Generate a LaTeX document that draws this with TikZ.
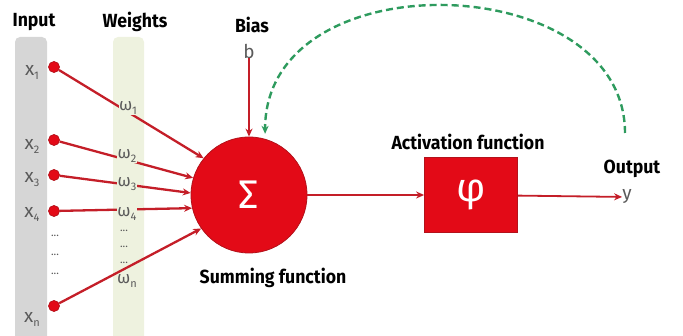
\documentclass[tikz,border=0pt]{standalone}
\usepackage{fontspec}
\setmainfont{Fira Sans}
\newfontfamily\headfont[FakeStretch=0.93]{Fira Sans}
\usetikzlibrary{arrows.meta}
\definecolor{nred}{HTML}{E30A17}
\definecolor{dred}{HTML}{B3121B}
\definecolor{lred}{HTML}{C41E28}
\definecolor{greybar}{HTML}{D6D6D6}
\definecolor{greenbar}{HTML}{EEF2DF}
\definecolor{fbgreen}{HTML}{2E9B5E}
\definecolor{txtgrey}{HTML}{5A5A5A}
\newcommand{\sbs}[1]{\raisebox{-0.4ex}{\fontsize{11}{11}\selectfont #1}}
\tikzset{
  head/.style={font=\headfont\bfseries\fontsize{19}{19}\selectfont, text=black, inner sep=0pt},
  xlab/.style={font=\fontsize{19}{19}\selectfont, text=txtgrey, inner sep=0pt},
  wlab/.style={font=\fontsize{17}{17}\selectfont, text=txtgrey, fill=greenbar, inner sep=0.5pt},
  dotsA/.style={font=\fontsize{11}{11}\selectfont, text=txtgrey, inner sep=0pt},
  indot/.style={circle, fill=nred, draw=dred, line width=0.7pt, minimum size=11pt, inner sep=0pt},
  wline/.style={draw=lred, line width=2.3pt, -{Stealth[length=8pt,width=7pt]}},
  rline/.style={draw=lred, line width=1.8pt, -{Stealth[length=8pt,width=7pt]}}
}
\begin{document}
\begin{tikzpicture}[x=1pt,y=-1pt]
\useasboundingbox (0,0) rectangle (683,336);
\begin{scope}
\clip (0,0) rectangle (683,336);
\fill[greybar, rounded corners=5pt] (15,37) rectangle (47,350);
\fill[greenbar, rounded corners=5pt] (113,37) rectangle (144,350);
\end{scope}

\node[head] (inlab) at (34,22) {Input};
\node[head] (wlabh) at (135,22) {Weights};
\node[head] (biaslab) at (252,25) {Bias};
\node[head] (sumlab) at (273,278) {Summing function};
\node[head] (actlab) at (468,142) {Activation function};
\node[head] (outlab) at (632,169) {Output};

% inputs
\node[xlab] (x1) at (32,72) {x\sbs{1}};
\node[xlab] (x2) at (32,146) {x\sbs{2}};
\node[xlab] (x3) at (32,180) {x\sbs{3}};
\node[xlab] (x4) at (32,214) {x\sbs{4}};
\node[xlab] (xn) at (32,319) {x\sbs{n}};
\node[dotsA] (ia) at (55,236) {...};
\node[dotsA] (ib) at (55,255) {...};
\node[dotsA] (ic) at (55,274) {...};

\node[indot] (d1) at (54,67) {};
\node[indot] (d2) at (54,140) {};
\node[indot] (d3) at (54,175) {};
\node[indot] (d4) at (54,211) {};
\node[indot] (dn) at (54,306) {};

% summing node
\node[circle, fill=nred, draw=dred, line width=0.8pt, minimum size=116pt, inner sep=0pt,
      text=white, font=\fontsize{40}{40}\selectfont] (sum) at (249,195) {Σ};

\draw[wline] (d1) -- (sum.141);
\draw[wline] (d2) -- (sum.163);
\draw[wline] (d3) -- (sum.178);
\draw[wline] (d4) -- (sum.193);
\draw[wline] (dn) -- (sum.215);

% weights
\node[wlab] (w1) at (128,108) {ω\sbs{1}};
\node[wlab] (w2) at (127,156) {ω\sbs{2}};
\node[wlab] (w3) at (127,184) {ω\sbs{3}};
\node[wlab] (w4) at (127,214) {ω\sbs{4}};
\node[dotsA] (wa) at (124,231) {...};
\node[dotsA] (wb) at (124,247) {...};
\node[dotsA] (wc) at (124,263) {...};
\node[wlab] (wn) at (127,281) {ω\sbs{n}};

% bias
\node[xlab] (b) at (249,51) {b};
\draw[rline] (b) -- (sum);

% activation
\node[rectangle, fill=nred, draw=dred, line width=0.8pt, minimum width=93pt, minimum height=75pt,
      text=white, font=\fontsize{40}{40}\selectfont] (act) at (471,195) {φ};
\draw[rline] (sum) -- (act);

\node[xlab] (y) at (627,197) {y};
\draw[rline] (act) -- (y);

% feedback
\coordinate (fb) at (625,133);
\draw[fbgreen, line width=2.4pt, dash pattern=on 7pt off 4pt, -{Stealth[length=8pt,width=7pt]}, shorten >=5pt]
  (fb) .. controls (625,-32) and (265,-42) .. (sum.74);
\end{tikzpicture}
\end{document}
